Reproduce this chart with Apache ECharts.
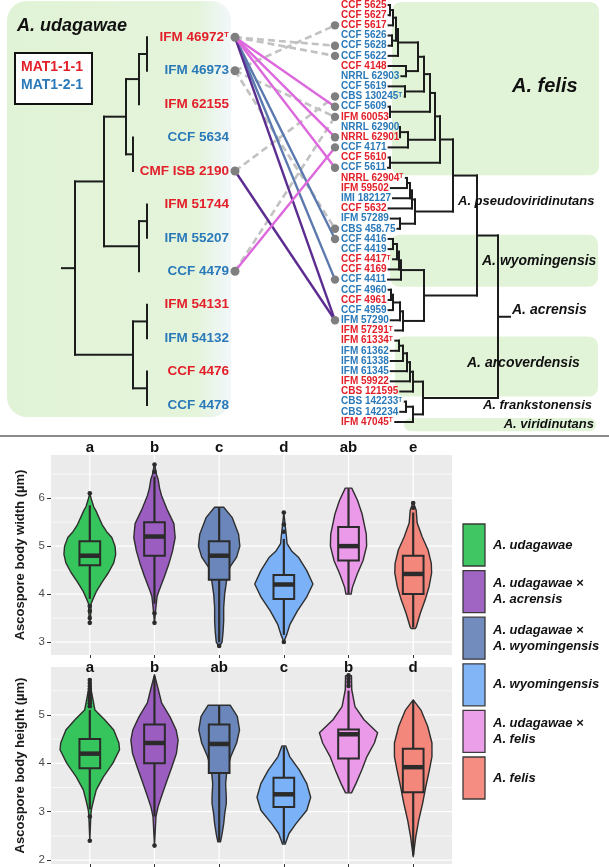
<!DOCTYPE html>
<html><head><meta charset="utf-8">
<script src="https://cdn.jsdelivr.net/npm/echarts@6.0.0/dist/echarts.min.js"></script>
<style>html,body{margin:0;padding:0;background:#fff;}#chart{width:609px;height:867px;}</style>
</head><body><div id="chart"></div>
<script>
// ================= DATA =================
// Left tree: A. udagawae strains (MAT: 1 = MAT1-1-1, 2 = MAT1-2-1; T = type strain)
const leftStrains = ['IFM 46972','IFM 46973','IFM 62155','CCF 5634','CMF ISB 2190','IFM 51744','IFM 55207','CCF 4479','IFM 54131','IFM 54132','CCF 4476','CCF 4478'];
const leftMAT = [1,2,1,2,1,1,2,2,1,2,1,2];
const leftType = [1,0,0,0,0,0,0,0,0,0,0,0];
// internal nodes: [id, branch position, child, child]
const leftNodes = [
  ['n1',147,0,1],['n2',139,'n1',2],['n3',133,3,4],['n4',126,'n2','n3'],
  ['n5',147,5,6],['n6',139,'n5',7],['n7',104,'n4','n6'],
  ['n8',147,8,9],['n9',147,10,11],['n10',133,'n8','n9'],['root',75,'n7','n10']
];
// Right tree: related species
const rightStrains = ['CCF 5625','CCF 5627','CCF 5617','CCF 5626','CCF 5628','CCF 5622','CCF 4148','NRRL 62903','CCF 5619','CBS 130245','CCF 5609','IFM 60053','NRRL 62900','NRRL 62901','CCF 4171','CCF 5610','CCF 5611',
  'NRRL 62904','IFM 59502','IMI 182127','CCF 5632','IFM 57289','CBS 458.75',
  'CCF 4416','CCF 4419','CCF 4417','CCF 4169','CCF 4411',
  'CCF 4960','CCF 4961','CCF 4959','IFM 57290','IFM 57291',
  'IFM 61334','IFM 61362','IFM 61338','IFM 61345','IFM 59922','CBS 121595',
  'CBS 142233','CBS 142234','IFM 47045'];
const rightMAT = [1,1,1,2,2,2,1,2,2,2,2,1,2,1,2,1,2, 1,1,2,1,2,2, 2,2,1,1,2, 2,1,2,2,1, 1,2,2,2,1,1, 2,2, 1];
const rightType = [0,0,0,0,0,0,0,0,0,1,0,0,0,0,0,0,0, 1,0,0,0,0,0, 0,0,1,0,0, 0,0,0,0,1, 1,0,0,0,0,0, 1,0, 1];
const rightNodes = [
  ['f1',390,0,1],['f2',393,'f1',2],['f3',392,3,4],['f4',396,'f2','f3'],['f5',398,'f4',5],
  ['f6',406,6,7],['f7',418,'f5','f6'],['f8',405,8,9],['f9',424,'f7','f8'],
  ['f10',390,10,11],['f11',430,'f9','f10'],['f12',400,12,13],['f13',408,'f12',14],
  ['f14',435,'f11','f13'],['f15',390,15,16],['fel',440,'f14','f15'],
  ['p1',407,17,18],['p2',410,'p1',19],['p3',412,'p2',20],['p4',400,21,22],['pse',415,'p3','p4'],
  ['z',453,'fel','pse'],
  ['w1',393,23,24],['w2',397,'w1',25],['w3',399,'w2',26],['wyo',401,'w3',27],
  ['a1',391,28,29],['a2',393,'a1',30],['a3',400,'a2',31],['acr',403,'a3',32],
  ['q',424,'wyo','acr'],['y',477,'z','q'],
  ['r1',399,33,34],['r2',403,'r1',35],['r3',407,'r2',36],['r4',410,'r3',37],['arc',413,'r4',38],
  ['k1',406,39,40],['k2',413,'k1',41],['r',423,'arc','k2'],
  ['root',498,'y','r']
];
const cladeNames = ['A. felis','A. pseudoviridinutans','A. wyomingensis','A. acrensis','A. arcoverdensis','A. frankstonensis','A. viridinutans'];
// crosses: [left strain, right strain, outcome]
const crossKinds = ['none','felis','wyomingensis','acrensis'];
const crosses = [
  [0,4,'none'],[0,5,'none'],[1,2,'none'],[1,11,'none'],[1,22,'none'],[4,9,'none'],[7,11,'none'],
  [0,23,'wyomingensis'],[0,27,'wyomingensis'],
  [0,31,'acrensis'],[4,31,'acrensis'],
  [0,10,'felis'],[0,13,'felis'],[0,16,'felis'],[7,14,'felis']
];

// Violin plots
const groups = ['A. udagawae','A. udagawae ×\nA. acrensis','A. udagawae ×\nA. wyomingensis','A. wyomingensis','A. udagawae ×\nA. felis','A. felis'];
const widthLetters = ['a','b','c','d','ab','e'];
const heightLetters = ['a','b','ab','c','b','d'];
const widthTicks = [3,4,5,6];
const widthMinor = [3.5,4.5,5.5,6.5];
const heightTicks = [2,3,4,5];
const heightMinor = [2.5,3.5,4.5,5.5];
// box stats: [lower whisker, Q1, median, Q3, upper whisker]
const widthBox = [[3.9,4.6,4.8,5.1,5.85],[3.8,4.8,5.2,5.5,6.45],[3.0,4.3,4.8,5.1,5.8],[3.15,3.9,4.2,4.4,5.15],[4.0,4.7,5.0,5.4,6.2],[3.3,4.0,4.42,4.8,5.7]];
const widthOutliers = [[6.1,3.75,3.65,3.5,3.4],[6.7,6.55,3.6,3.4],[2.92],[5.7,5.45,5.3,3.0],[],[5.9,5.8]];
const heightBox = [[3.05,3.9,4.2,4.5,5.1],[2.9,4.0,4.42,4.8,5.8],[2.4,3.8,4.4,4.8,5.2],[2.35,3.1,3.36,3.7,4.35],[3.4,4.1,4.6,4.7,5.5],[2.1,3.4,3.92,4.3,5.3]];
const heightOutliers = [[5.72,5.66,5.6,5.54,5.48,5.42,5.36,5.3,5.24,5.18,2.9,2.4],[2.3],[],[],[5.82,5.75,5.68,5.6],[]];
// violin outlines: [value, half width in category units]
const widthDensity = [
  [[6.1,0],[5.95,.03],[5.82,.06],[5.75,.09],[5.6,.14],[5.45,.19],[5.3,.26],[5.18,.34],[5.0,.39],[4.83,.40],[4.65,.37],[4.45,.29],[4.25,.19],[4.05,.10],[3.9,.05],[3.8,.02],[3.6,.015],[3.4,0]],
  [[6.72,0],[6.5,.03],[6.4,.055],[6.2,.08],[6.05,.11],[5.75,.20],[5.47,.30],[5.18,.32],[4.9,.28],[4.62,.22],[4.35,.15],[4.07,.07],[3.95,.04],[3.7,.02],[3.4,0]],
  [[5.81,.07],[5.6,.20],[5.25,.30],[5.0,.32],[4.77,.27],[4.56,.165],[4.28,.115],[4.0,.085],[3.72,.07],[3.44,.07],[3.2,.06],[3.0,.045],[2.9,0]],
  [[5.7,0],[5.4,.023],[5.2,.04],[5.05,.05],[4.9,.12],[4.77,.225],[4.49,.355],[4.21,.45],[3.93,.35],[3.65,.21],[3.37,.095],[3.16,.046],[3.0,0]],
  [[6.21,.05],[5.95,.14],[5.67,.21],[5.25,.275],[5.0,.28],[4.7,.225],[4.42,.135],[4.14,.06],[4.0,.04]],
  [[5.92,0],[5.75,.046],[5.48,.062],[5.19,.14],[4.92,.23],[4.64,.28],[4.44,.285],[4.15,.245],[3.88,.185],[3.6,.11],[3.31,.046],[3.28,.03]]
];
const heightDensity = [
  [[5.72,0],[5.5,.023],[5.38,.04],[5.1,.08],[4.9,.23],[4.69,.37],[4.42,.45],[4.28,.46],[4.0,.355],[3.72,.21],[3.45,.10],[3.17,.046],[3.03,.023],[2.9,.015],[2.4,0]],
  [[5.83,0],[5.52,.06],[5.25,.11],[4.96,.24],[4.69,.335],[4.48,.365],[4.21,.34],[3.93,.27],[3.65,.195],[3.38,.125],[3.1,.055],[2.9,.023],[2.3,0]],
  [[5.2,.17],[4.97,.28],[4.69,.315],[4.42,.27],[4.14,.18],[3.86,.12],[3.58,.10],[3.3,.11],[3.17,.11],[2.95,.085],[2.75,.07],[2.5,.04],[2.38,.02]],
  [[4.36,.03],[4.14,.09],[3.86,.24],[3.58,.355],[3.3,.415],[3.03,.355],[2.75,.185],[2.55,.08],[2.33,.02]],
  [[5.81,.046],[5.52,.05],[5.17,.10],[4.9,.24],[4.63,.45],[4.42,.40],[4.14,.285],[3.86,.205],[3.58,.115],[3.39,.046]],
  [[5.31,0],[5.1,.12],[4.76,.225],[4.42,.29],[4.14,.29],[3.86,.25],[3.52,.195],[3.17,.145],[2.82,.085],[2.48,.04],[2.07,0]]
];

// ================= STYLE / LAYOUT =================
const FONT = '"Liberation Sans", Arial, Helvetica, sans-serif';
const RED = '#e3202a', BLUE = '#2a79b9';
const MATCOL = {1: RED, 2: BLUE};
const COLORS = ['#36c45c','#9b5dc0','#6a86ba','#7bb1f6','#ea9ae8','#f4877b'];
const KINDSTYLE = {
  none: {stroke:'#c2c2c2', lineWidth:2.6, lineDash:[7,4]},
  felis: {stroke:'#dd68dd', lineWidth:2.4},
  wyomingensis: {stroke:'#5b79ae', lineWidth:2.4},
  acrensis: {stroke:'#5c2d91', lineWidth:2.4}
};
const LAY = {leftLabelRight:229, leftDotX:235, rightDotX:335, rightLabelLeft:341, leftRootEnd:62, rightRootEnd:510,
  LS:13.5, LT:8, RS:10, RT:6.5};
const cladeLayout = [
  {x:512,row:8.0,size:20,align:'left'},{x:458,row:19.3,size:13,align:'left'},{x:482,row:25.2,size:14,align:'left'},
  {x:512,row:30.0,size:14,align:'left'},{x:467,row:35.2,size:14,align:'left'},{x:592,row:39.4,size:13,align:'right'},
  {x:594,row:41.2,size:13,align:'right'}];
const cladeBoxes = [[392,-0.3,599,16.75],[390,22.6,598,27.7],[395,32.6,598,38.5],[404,40.6,596,41.9]];

const ctx = document.createElement('canvas').getContext('2d');
function tw(t, size){ ctx.font = 'bold ' + size + 'px ' + FONT; return ctx.measureText(t).width; }
function labelW(name, isT, S, T){ return tw(name, S) + (isT ? tw('T', T) + 0.5 : 0); }

function layoutTree(nodes){
  const pos = {};
  nodes.forEach(([id, x, ...ch]) => {
    const ys = ch.map(c => typeof c === 'number' ? c : pos[c].y);
    pos[id] = {x: x, y: (Math.min(...ys) + Math.max(...ys)) / 2};
  });
  return pos;
}
function treeSegments(nodes, pos, tipX){
  const segs = [];
  nodes.forEach(([id, x, ...ch]) => {
    const ys = ch.map(c => typeof c === 'number' ? c : pos[c].y);
    segs.push([x, Math.min(...ys), x, Math.max(...ys)]);
    ch.forEach((c, k) => {
      const cx = typeof c === 'number' ? Math.min(tipX(c), x) : pos[c].x;
      segs.push([x, ys[k], cx, ys[k]]);
    });
  });
  return segs;
}
const leftPos = layoutTree(leftNodes);
const rightPos = layoutTree(rightNodes);
const leftSegs = treeSegments(leftNodes, leftPos, i => LAY.leftLabelRight - labelW(leftStrains[i], leftType[i], LAY.LS, LAY.LT) - 3);
leftSegs.push([leftPos.root.x, leftPos.root.y, LAY.leftRootEnd, leftPos.root.y]);
const rightSegs = treeSegments(rightNodes, rightPos, i => LAY.rightLabelLeft + labelW(rightStrains[i], rightType[i], LAY.RS, LAY.RT) + 2);
rightSegs.push([rightPos.root.x, rightPos.root.y, LAY.rightRootEnd, rightPos.root.y]);

const segRender = (p, api) => {
  const a = api.coord([api.value(0), api.value(1)]);
  const b = api.coord([api.value(2), api.value(3)]);
  return {type:'line', shape:{x1:a[0], y1:a[1], x2:b[0], y2:b[1]}, style:{stroke:'#1c1c1c', lineWidth:2, lineCap:'square'}};
};

function labelText(name, isT){ return isT ? '{n|' + name + '}{t|T}' : '{n|' + name + '}'; }
function richFor(col, S, T){
  return {n:{fontSize:S, fontWeight:'bold', fontFamily:FONT, fill:col, color:col},
          t:{fontSize:T, fontWeight:'bold', fontFamily:FONT, fill:col, color:col, verticalAlign:'top'}};
}

const leftDotsIdx = [...new Set(crosses.map(c => c[0]))];
const rightDotsIdx = [...new Set(crosses.map(c => c[1]))];

function gridLineRender(major, minor){
  return (p, api) => {
    const ch = [];
    minor.forEach(v => { const a = api.coord([0.4, v]), b = api.coord([6.6, v]);
      ch.push({type:'line', shape:{x1:a[0],y1:a[1],x2:b[0],y2:b[1]}, style:{stroke:'#ffffff', lineWidth:0.6}}); });
    major.forEach(v => { const a = api.coord([0.4, v]), b = api.coord([6.6, v]);
      ch.push({type:'line', shape:{x1:a[0],y1:a[1],x2:b[0],y2:b[1]}, style:{stroke:'#ffffff', lineWidth:1.3}}); });
    groups.forEach((g, i) => { const a = api.coord([i+1, api.value(1)]), b = api.coord([i+1, api.value(2)]);
      ch.push({type:'line', shape:{x1:a[0],y1:a[1],x2:b[0],y2:b[1]}, style:{stroke:'#ffffff', lineWidth:1.3}}); });
    return {type:'group', children:ch};
  };
}
function violinRender(dens, box, outs){
  return (p, api) => {
    const i = p.dataIndex, c = i + 1, d = dens[i], b = box[i];
    const right = d.map(([v, h]) => api.coord([c + h, v]));
    const left = d.slice().reverse().map(([v, h]) => api.coord([c - h, v]));
    const ch = [{type:'polygon', shape:{points:right.concat(left)}, style:{fill:COLORS[i], stroke:'#2e2e2e', lineWidth:1.4, lineJoin:'round'}}];
    const P = v => api.coord([c, v]);
    const w1 = P(b[0]), q1 = P(b[1]), md = P(b[2]), q3 = P(b[3]), w2 = P(b[4]);
    const bl = api.coord([c - 0.16, b[3]]), br = api.coord([c + 0.16, b[1]]);
    ch.push({type:'line', shape:{x1:w1[0],y1:w1[1],x2:q1[0],y2:q1[1]}, style:{stroke:'#2b2b2b', lineWidth:2.2}});
    ch.push({type:'line', shape:{x1:q3[0],y1:q3[1],x2:w2[0],y2:w2[1]}, style:{stroke:'#2b2b2b', lineWidth:2.2}});
    ch.push({type:'rect', shape:{x:bl[0], y:bl[1], width:br[0]-bl[0], height:br[1]-bl[1]}, style:{fill:COLORS[i], stroke:'#2b2b2b', lineWidth:2}});
    ch.push({type:'line', shape:{x1:bl[0],y1:md[1],x2:br[0],y2:md[1]}, style:{stroke:'#2b2b2b', lineWidth:4.5}});
    outs[i].forEach(v => { const o = P(v); ch.push({type:'circle', shape:{cx:o[0], cy:o[1], r:2.3}, style:{fill:'#2b2b2b'}}); });
    return {type:'group', children:ch};
  };
}
function letterRender(letters, dy){
  return (p, api) => {
    const pt = api.coord([api.value(0), api.value(1)]);
    return {type:'text', x:pt[0], y:pt[1] + dy, style:{text:letters[p.dataIndex], fill:'#111', fontSize:15, fontWeight:'bold', fontFamily:FONT,
      align:'center', textAlign:'center', verticalAlign:'middle', textVerticalAlign:'middle'}};
  };
}

const legendEls = [];
groups.forEach((g, i) => {
  const y0 = 524 + i * 46.6;
  legendEls.push({type:'rect', z:1, shape:{x:463, y:y0, width:22, height:42}, style:{fill:COLORS[i], stroke:'#333', lineWidth:1.3, opacity:0.95}});
  legendEls.push({type:'text', z:1, x:493, y:y0 + 21, style:{text:g, fill:'#111', fontSize:13, fontWeight:'bold', fontStyle:'italic', fontFamily:FONT, lineHeight:16,
    align:'left', textAlign:'left', verticalAlign:'middle', textVerticalAlign:'middle'}});
});

const TOPMIN = 2.73, TOPMAX = 6.9, BOTMIN = 1.92, BOTMAX = 5.99;
const catTicks = groups.map((g, i) => i + 1);
function violinX(gi){ return {gridIndex:gi, type:'value', min:0.4, max:6.6, axisLine:{show:false}, axisLabel:{show:false}, splitLine:{show:false},
  axisTick:{show:true, customValues:catTicks, length:3, lineStyle:{color:'#333', width:1}}}; }
function violinY(gi, mn, mx, ticks, name){ return {gridIndex:gi, type:'value', min:mn, max:mx, axisLine:{show:false}, splitLine:{show:false},
  axisTick:{show:true, customValues:ticks, length:4, lineStyle:{color:'#333', width:1}},
  axisLabel:{customValues:ticks, color:'#4d4d4d', fontSize:11.5, margin:6, fontFamily:FONT},
  name:name, nameLocation:'middle', nameGap:24, nameRotate:90, nameTextStyle:{fontSize:13, fontWeight:'bold', color:'#1a1a1a', fontFamily:FONT}}; }

const option = {
  animation:false,
  backgroundColor:'#ffffff',
  grid:[
    {left:0, top:37.3, width:609, height:367.7, show:false, outerBoundsMode:'none'},
    {left:0, top:5, width:609, height:417, show:false, outerBoundsMode:'none'},
    {left:51, top:455, width:401, height:200, show:true, backgroundColor:'#ebebeb', borderWidth:0, outerBoundsMode:'none'},
    {left:51, top:667, width:401, height:197, show:true, backgroundColor:'#ebebeb', borderWidth:0, outerBoundsMode:'none'}
  ],
  xAxis:[
    {gridIndex:0, type:'value', min:0, max:609, show:false},
    {gridIndex:1, type:'value', min:0, max:609, show:false},
    violinX(2), violinX(3)
  ],
  yAxis:[
    {gridIndex:0, type:'value', min:0, max:11, inverse:true, show:false},
    {gridIndex:1, type:'value', min:0, max:41, inverse:true, show:false},
    violinY(2, TOPMIN, TOPMAX, widthTicks, 'Ascospore body width (µm)'),
    violinY(3, BOTMIN, BOTMAX, heightTicks, 'Ascospore body height (µm)')
  ],
  graphic:{elements:[
    {type:'rect', z:0, shape:{x:7, y:1, width:224, height:416, r:20},
      style:{fill:new echarts.graphic.LinearGradient(0,0,1,0,[{offset:0,color:'#e1f3d6'},{offset:0.85,color:'#e4f4db'},{offset:1,color:'#f2f7fb'}])}},
    {type:'text', z:1, x:17, y:26, style:{text:'A. udagawae', fill:'#111', fontSize:18, fontWeight:'bold', fontStyle:'italic', fontFamily:FONT, verticalAlign:'middle', textVerticalAlign:'middle'}},
    {type:'rect', z:1, shape:{x:15, y:53, width:77, height:51}, style:{fill:'#fff', stroke:'#111', lineWidth:2}},
    {type:'text', z:1, x:21, y:67, style:{text:'MAT1-1-1', fill:RED, fontSize:14, fontWeight:'bold', fontFamily:FONT, verticalAlign:'middle', textVerticalAlign:'middle'}},
    {type:'text', z:1, x:21, y:85, style:{text:'MAT1-2-1', fill:BLUE, fontSize:14, fontWeight:'bold', fontFamily:FONT, verticalAlign:'middle', textVerticalAlign:'middle'}},
    {type:'line', z:1, shape:{x1:0, y1:436, x2:609, y2:436}, style:{stroke:'#8a8a8a', lineWidth:2}}
  ].concat(legendEls)},
  series:[
    {type:'custom', xAxisIndex:1, yAxisIndex:1, z:1, data:cladeBoxes,
      renderItem:(p, api) => { const a = api.coord([api.value(0), api.value(1)]), b = api.coord([api.value(2), api.value(3)]);
        return {type:'rect', shape:{x:a[0], y:a[1], width:b[0]-a[0], height:b[1]-a[1], r:9}, style:{fill:'#e2f4d8'}}; }},
    {type:'custom', xAxisIndex:0, yAxisIndex:0, z:3, data:leftSegs, renderItem:segRender},
    {type:'custom', xAxisIndex:1, yAxisIndex:1, z:3, data:rightSegs, renderItem:segRender},
    {id:'conn', type:'custom', coordinateSystem:'none', z:4, data:[],
      renderItem:(p, api) => { const k = crossKinds[api.value(4)];
        return {type:'line', shape:{x1:api.value(0), y1:api.value(1), x2:api.value(2), y2:api.value(3)}, style:Object.assign({}, KINDSTYLE[k])}; }},
    {type:'custom', xAxisIndex:0, yAxisIndex:0, z:5, data:leftDotsIdx.map(i => [LAY.leftDotX, i]),
      renderItem:(p, api) => { const a = api.coord([api.value(0), api.value(1)]); return {type:'circle', shape:{cx:a[0], cy:a[1], r:4.5}, style:{fill:'#7f7f7f'}}; }},
    {type:'custom', xAxisIndex:1, yAxisIndex:1, z:5, data:rightDotsIdx.map(i => [LAY.rightDotX, i]),
      renderItem:(p, api) => { const a = api.coord([api.value(0), api.value(1)]); return {type:'circle', shape:{cx:a[0], cy:a[1], r:4.2}, style:{fill:'#7f7f7f'}}; }},
    {type:'custom', xAxisIndex:0, yAxisIndex:0, z:6, data:leftStrains.map((s, i) => [LAY.leftLabelRight, i]),
      renderItem:(p, api) => { const i = p.dataIndex, a = api.coord([api.value(0), api.value(1)]);
        return {type:'text', x:a[0], y:a[1], style:{text:labelText(leftStrains[i], leftType[i]), rich:richFor(MATCOL[leftMAT[i]], LAY.LS, LAY.LT),
          align:'right', textAlign:'right', verticalAlign:'middle', textVerticalAlign:'middle'}}; }},
    {type:'custom', xAxisIndex:1, yAxisIndex:1, z:6, data:rightStrains.map((s, i) => [LAY.rightLabelLeft, i]),
      renderItem:(p, api) => { const i = p.dataIndex, a = api.coord([api.value(0), api.value(1)]);
        return {type:'text', x:a[0], y:a[1], style:{text:labelText(rightStrains[i], rightType[i]), rich:richFor(MATCOL[rightMAT[i]], LAY.RS, LAY.RT),
          align:'left', textAlign:'left', verticalAlign:'middle', textVerticalAlign:'middle'}}; }},
    {type:'custom', xAxisIndex:1, yAxisIndex:1, z:6, data:cladeLayout.map(c => [c.x, c.row]),
      renderItem:(p, api) => { const c = cladeLayout[p.dataIndex], a = api.coord([api.value(0), api.value(1)]);
        return {type:'text', x:a[0], y:a[1], style:{text:cladeNames[p.dataIndex], fill:'#111', fontSize:c.size, fontWeight:'bold', fontStyle:'italic', fontFamily:FONT,
          align:c.align, textAlign:c.align, verticalAlign:'middle', textVerticalAlign:'middle'}}; }},
    {type:'custom', xAxisIndex:2, yAxisIndex:2, z:1, data:[[1, TOPMIN, TOPMAX]], renderItem:gridLineRender(widthTicks, widthMinor)},
    {type:'custom', xAxisIndex:2, yAxisIndex:2, z:3, data:groups.map((g, i) => [i+1, widthBox[i][2]]), renderItem:violinRender(widthDensity, widthBox, widthOutliers)},
    {type:'custom', xAxisIndex:2, yAxisIndex:2, z:4, data:groups.map((g, i) => [i+1, TOPMAX]), renderItem:letterRender(widthLetters, -7)},
    {type:'custom', xAxisIndex:3, yAxisIndex:3, z:1, data:[[1, BOTMIN, BOTMAX]], renderItem:gridLineRender(heightTicks, heightMinor)},
    {type:'custom', xAxisIndex:3, yAxisIndex:3, z:3, data:groups.map((g, i) => [i+1, heightBox[i][2]]), renderItem:violinRender(heightDensity, heightBox, heightOutliers)},
    {type:'custom', xAxisIndex:3, yAxisIndex:3, z:4, data:groups.map((g, i) => [i+1, BOTMAX]), renderItem:letterRender(heightLetters, 1)}
  ]
};

const chart = echarts.init(document.getElementById('chart'), null, {renderer:'canvas', width:609, height:867});
chart.setOption(option);
const connData = crosses.map(([li, ri, kind]) => {
  const a = chart.convertToPixel({xAxisIndex:0, yAxisIndex:0}, [LAY.leftDotX, li]);
  const b = chart.convertToPixel({xAxisIndex:1, yAxisIndex:1}, [LAY.rightDotX, ri]);
  return [a[0], a[1], b[0], b[1], crossKinds.indexOf(kind)];
});
chart.setOption({series:[{id:'conn', data:connData}]});
</script></body></html>
